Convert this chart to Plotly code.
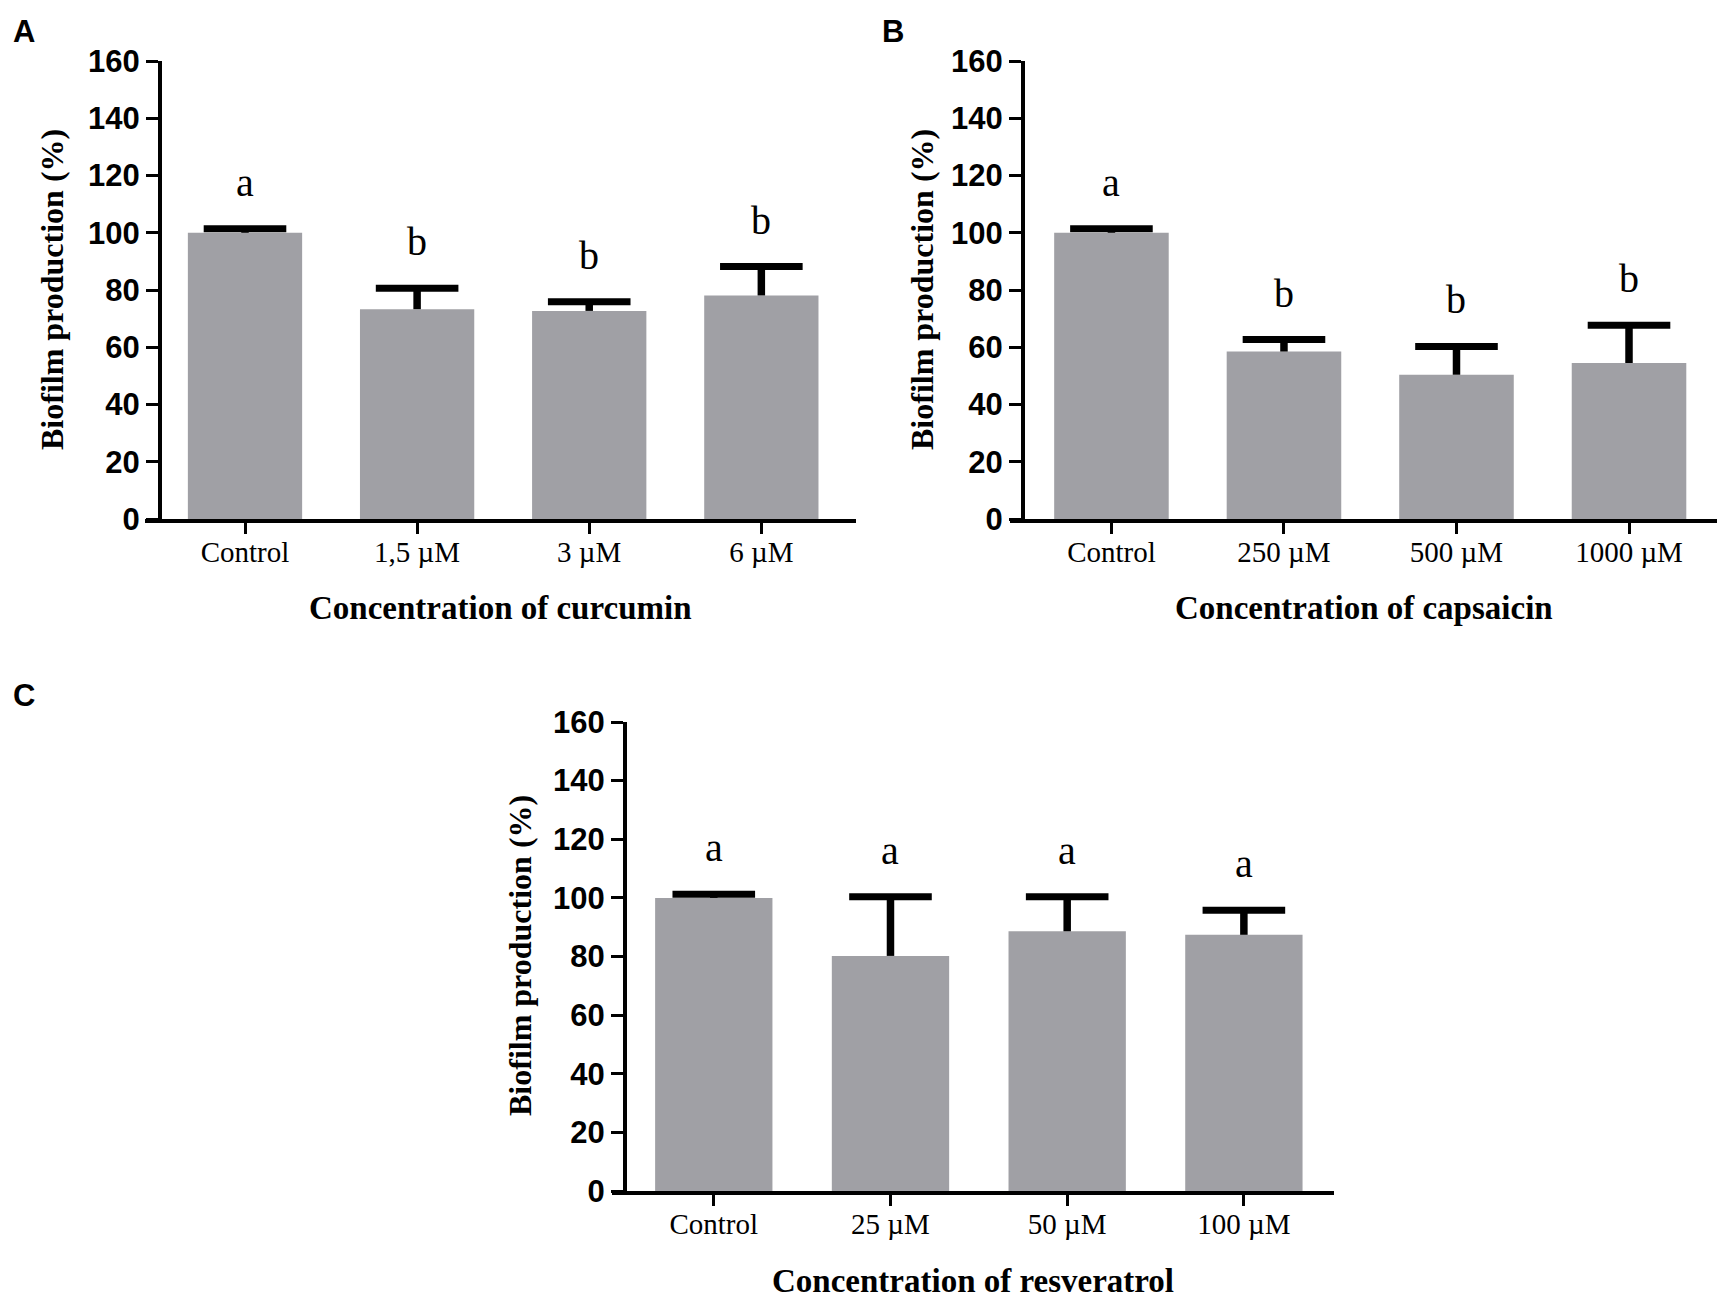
import plotly.graph_objects as go

# ---------------- data ----------------
categories_a = ["Control", "1,5 µM", "3 µM", "6 µM"]
means_a = [100, 73.3, 72.7, 78.1]
sd_a = [1.4, 7.3, 3.2, 10.1]
letters_a = ["a", "b", "b", "b"]
xtitle_a = "Concentration of curcumin"

categories_b = ["Control", "250 µM", "500 µM", "1000 µM"]
means_b = [100, 58.5, 50.4, 54.5]
sd_b = [1.4, 4.2, 9.9, 13.2]
letters_b = ["a", "b", "b", "b"]
xtitle_b = "Concentration of capsaicin"

categories_c = ["Control", "25 µM", "50 µM", "100 µM"]
means_c = [100, 80.2, 88.6, 87.4]
sd_c = [1.2, 20.2, 11.8, 8.4]
letters_c = ["a", "a", "a", "a"]
xtitle_c = "Concentration of resveratrol"

ytitle = "Biofilm production (%)"
panel_labels = ["A", "B", "C"]
y_ticks = [0, 20, 40, 60, 80, 100, 120, 140, 160]

# ---------------- layout constants ----------------
W, H = 1725, 1300
BAR_COLOR = "#A0A0A5"
SANS = "Liberation Sans, Arial, sans-serif"
SERIF = "Liberation Serif, Times New Roman, serif"

panels = [
    dict(cats=categories_a, m=means_a, s=sd_a, let=letters_a, xt=xtitle_a,
         xdom=(145, 856), yx=160, ydom=(519, 61), xr=(-0.581, 3.55),
         lab=(24, 32), ytp=(52, 290), xtp=(500, 608)),
    dict(cats=categories_b, m=means_b, s=sd_b, let=letters_b, xt=xtitle_b,
         xdom=(1010, 1717), yx=1023, ydom=(519, 61), xr=(-0.588, 3.51),
         lab=(893, 32), ytp=(922, 290), xtp=(1364, 608)),
    dict(cats=categories_c, m=means_c, s=sd_c, let=letters_c, xt=xtitle_c,
         xdom=(612, 1334), yx=625, ydom=(1191, 722), xr=(-0.576, 3.51),
         lab=(24, 695), ytp=(520, 956), xtp=(973, 1281)),
]

fig = go.Figure()
annotations = []
layout = {}

for i, p in enumerate(panels):
    sfx = "" if i == 0 else str(i + 1)
    xa, ya = "x" + sfx, "y" + sfx
    n = len(p["m"])
    tops = [m + s for m, s in zip(p["m"], p["s"])]
    fig.add_trace(go.Bar(
        x=p["cats"], y=p["m"], xaxis=xa, yaxis=ya,
        marker=dict(color=BAR_COLOR, line=dict(width=0)),
        width=0.664, showlegend=False, hoverinfo="skip",
    ))
    # one-sided (upper) error bars: stem + cap at the top only
    fig.add_trace(go.Scatter(
        x=p["cats"], y=tops, xaxis=xa, yaxis=ya, mode="markers",
        marker=dict(symbol="line-ew", size=59, color="black",
                    line=dict(width=7, color="black")),
        error_y=dict(type="data", symmetric=False, array=[0] * n,
                     arrayminus=p["s"], color="black", thickness=7.5, width=0),
        showlegend=False, hoverinfo="skip",
    ))
    layout["xaxis" + sfx] = dict(
        domain=[p["xdom"][0] / W, p["xdom"][1] / W],
        anchor=ya, type="category", range=list(p["xr"]),
        showline=True, linewidth=4, linecolor="black",
        ticks="outside", ticklen=11, tickwidth=3, tickcolor="black",
        tickfont=dict(family=SERIF, size=29, color="black"),
        ticklabelstandoff=-7,
        showgrid=False, zeroline=False, fixedrange=True, automargin=False,
    )
    layout["yaxis" + sfx] = dict(
        domain=[1 - p["ydom"][0] / H, 1 - p["ydom"][1] / H],
        anchor="free", position=p["yx"] / W, range=[0, 160],
        tickvals=y_ticks, showline=True, linewidth=4, linecolor="black",
        ticks="outside", ticklen=12, tickwidth=3, tickcolor="black",
        tickfont=dict(family=SANS, size=31, color="black", weight="bold"),
        showgrid=False, zeroline=False, fixedrange=True, automargin=False,
    )
    for c, t_y, t in zip(p["cats"], tops, p["let"]):
        annotations.append(dict(
            x=c, y=t_y, xref=xa, yref=ya, text=t, showarrow=False,
            yanchor="bottom", yshift=22,
            font=dict(family=SERIF, size=40, color="black"),
        ))
    annotations.append(dict(
        x=p["lab"][0] / W, y=1 - p["lab"][1] / H, xref="paper", yref="paper",
        text="<b>" + panel_labels[i] + "</b>", showarrow=False,
        xanchor="center", yanchor="middle",
        font=dict(family=SANS, size=31, color="black"),
    ))
    annotations.append(dict(
        x=p["ytp"][0] / W, y=1 - p["ytp"][1] / H, xref="paper", yref="paper",
        text="<b>" + ytitle + "</b>", showarrow=False, textangle=-90,
        xanchor="center", yanchor="middle",
        font=dict(family=SERIF, size=32, color="black"),
    ))
    annotations.append(dict(
        x=p["xtp"][0] / W, y=1 - p["xtp"][1] / H, xref="paper", yref="paper",
        text="<b>" + p["xt"] + "</b>", showarrow=False,
        xanchor="center", yanchor="middle",
        font=dict(family=SERIF, size=33, color="black"),
    ))

fig.update_layout(
    width=W, height=H, margin=dict(l=0, r=0, t=0, b=0, pad=0, autoexpand=False),
    paper_bgcolor="white", plot_bgcolor="white",
    annotations=annotations, **layout,
)

fig.write_html("out.html", config={"displayModeBar": False},
               post_script="document.body.style.margin='0';")
